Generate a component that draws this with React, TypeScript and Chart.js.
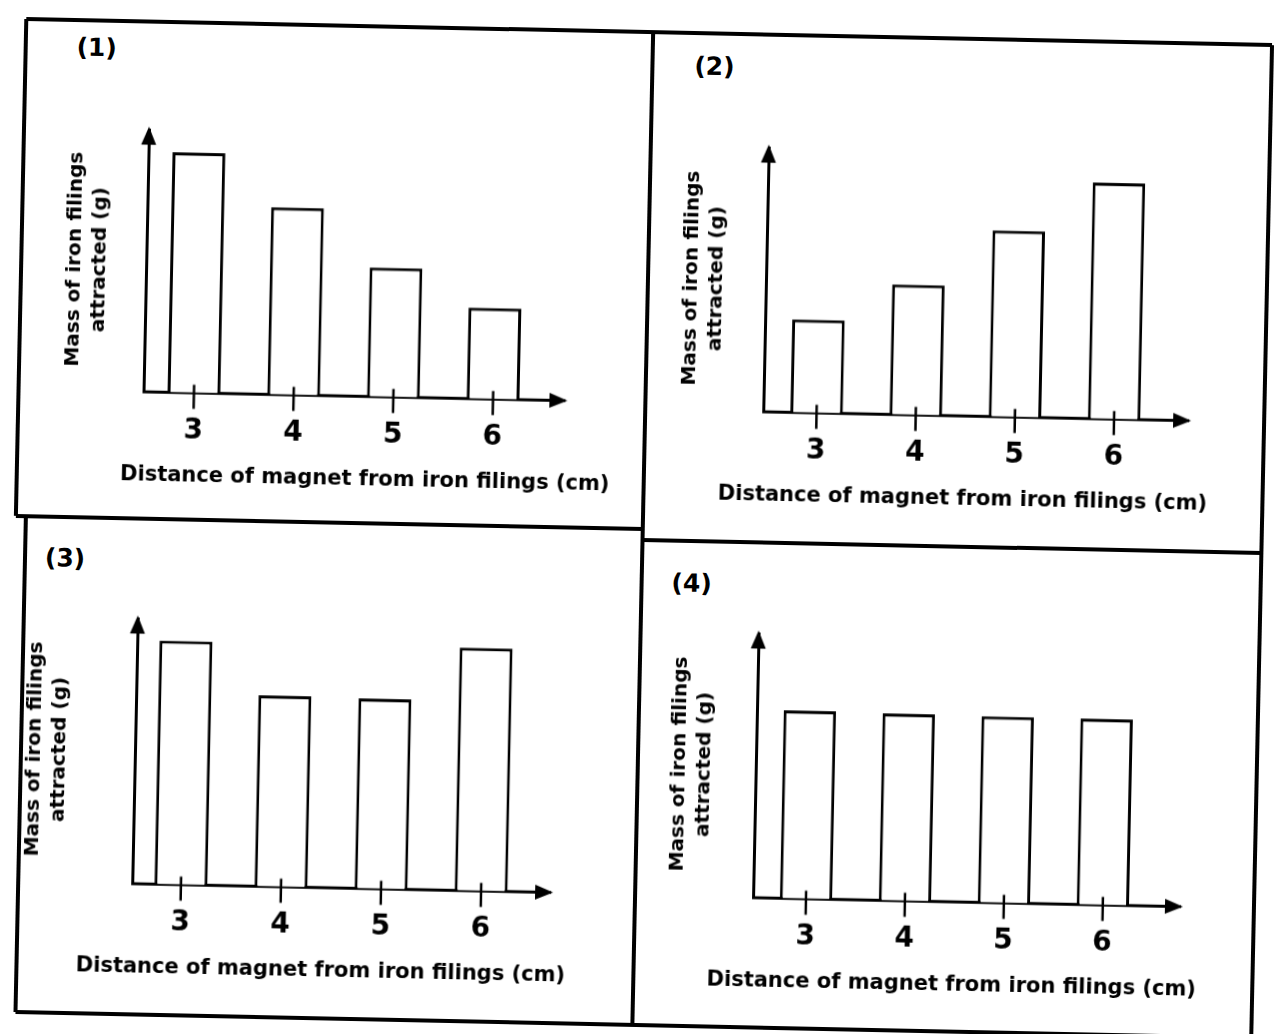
import React, { useEffect, useRef } from 'react';
import { Chart, registerables } from 'chart.js';

Chart.register(...registerables);

// ---------- data ----------
const distances = [3, 4, 5, 6];
const tickLabels = ['3', '4', '5', '6'];
const panelLabels = ['(1)', '(2)', '(3)', '(4)'];
const massPanel1 = [9.16, 7.14, 4.92, 3.47];
const massPanel2 = [3.52, 4.92, 7.05, 8.94];
const massPanel3 = [9.19, 7.2, 7.16, 9.16];
const massPanel4 = [7.11, 7.08, 7.05, 7.04];
const yTitleLines = ['Mass of iron filings', 'attracted (g)'];
const xTitle = 'Distance of magnet from iron filings (cm)';
const yMax = 10;

// ---------- layout (unrotated page coordinates) ----------
type PanelCfg = {
  values: number[];
  label: string;
  area: { l: number; r: number; t: number; b: number };
  xMin: number;
  xMax: number;
  yTitlePad: number;
  xTitleCenter: number;
  labelPos: { x: number; y: number };
};

const PANELS: PanelCfg[] = [
  { values: massPanel1, label: panelLabels[0], area: { l: 141, r: 562, t: 140, b: 402 }, xMin: 2.494, xMax: 6.716, yTitlePad: 36, xTitleCenter: 364, labelPos: { x: 87, y: 59 } },
  { values: massPanel2, label: panelLabels[1], area: { l: 761, r: 1186, t: 145, b: 409 }, xMin: 2.462, xMax: 6.747, yTitlePad: 33, xTitleCenter: 962, labelPos: { x: 705, y: 65 } },
  { values: massPanel3, label: panelLabels[2], area: { l: 140, r: 558, t: 629, b: 894 }, xMin: 2.513, xMax: 6.69, yTitlePad: 7, xTitleCenter: 330, labelPos: { x: 66, y: 570 } },
  { values: massPanel4, label: panelLabels[3], area: { l: 761, r: 1188, t: 631, b: 895 }, xMin: 2.465, xMax: 6.78, yTitlePad: 31, xTitleCenter: 961, labelPos: { x: 693, y: 582 } },
];

const YW = 120; // width of the y-axis box (holds the two-line title)
const XH = 60; // height of the x-axis box (tick labels)
const PT = 20;
const X_TITLE_SIZE = 21;
const X_TITLE_LH = 1.2;
const X_TITLE_OFFSET = 83; // title centre below the x axis
const X_TITLE_PAD_TOP = X_TITLE_OFFSET - XH - (X_TITLE_SIZE * X_TITLE_LH) / 2;
const X_TITLE_PAD_BOTTOM = 10;

const axisDecor = {
  id: 'axisDecor',
  afterDraw(chart: any) {
    const { ctx, chartArea: a, scales } = chart;
    const x = scales.x;
    ctx.save();
    ctx.fillStyle = '#000';
    ctx.strokeStyle = '#000';
    // y-axis arrow head
    ctx.beginPath();
    ctx.moveTo(a.left, a.top - 3);
    ctx.lineTo(a.left - 7.5, a.top + 15);
    ctx.lineTo(a.left + 7.5, a.top + 15);
    ctx.closePath();
    ctx.fill();
    // x-axis arrow head
    ctx.beginPath();
    ctx.moveTo(a.right + 3, a.bottom);
    ctx.lineTo(a.right - 15, a.bottom - 7.5);
    ctx.lineTo(a.right - 15, a.bottom + 7.5);
    ctx.closePath();
    ctx.fill();
    // tick marks crossing the axis
    ctx.lineWidth = 2.5;
    x.ticks.forEach((t: any) => {
      const px = x.getPixelForValue(t.value);
      ctx.beginPath();
      ctx.moveTo(px, a.bottom - 8);
      ctx.lineTo(px, a.bottom + 16);
      ctx.stroke();
    });
    ctx.restore();
  },
};

function Panel({ cfg }: { cfg: PanelCfg }) {
  const ref = useRef<HTMLCanvasElement>(null);
  const left = cfg.area.l - YW;
  const top = cfg.area.t - PT;
  const right = 2 * cfg.xTitleCenter - left; // canvas centred on the x title
  const PR = right - cfg.area.r;
  const width = right - left;
  const height =
    cfg.area.b + XH + X_TITLE_PAD_TOP + X_TITLE_SIZE * X_TITLE_LH + X_TITLE_PAD_BOTTOM - top;

  useEffect(() => {
    if (!ref.current) return;
    const chart = new Chart(ref.current, {
      type: 'bar',
      data: {
        datasets: [
          {
            data: distances.map((d, i) => ({ x: d, y: cfg.values[i] })),
            backgroundColor: '#ffffff',
            borderColor: '#000000',
            borderWidth: 3,
            categoryPercentage: 1,
            barPercentage: 0.53,
          } as any,
        ],
      },
      options: {
        responsive: false,
        animation: false,
        devicePixelRatio: 1,
        layout: { padding: { top: PT, right: 0, left: 0, bottom: 0 } },
        plugins: {
          legend: { display: false },
          tooltip: { enabled: false },
          title: {
            display: true,
            position: 'bottom',
            text: xTitle,
            color: '#000',
            font: { family: 'DejaVu Sans', size: X_TITLE_SIZE, weight: 'bold', lineHeight: X_TITLE_LH },
            padding: { top: X_TITLE_PAD_TOP, bottom: X_TITLE_PAD_BOTTOM },
          },
        },
        scales: {
          x: {
            type: 'linear',
            min: cfg.xMin,
            max: cfg.xMax,
            offset: false,
            z: 1,
            grid: { display: false, drawTicks: false },
            border: { display: true, color: '#000', width: 3 },
            ticks: {
              stepSize: 1,
              includeBounds: false,
              autoSkip: false,
              maxRotation: 0,
              padding: 22,
              color: '#000',
              font: { family: 'DejaVu Sans', size: 28, weight: 'bold' },
              callback: (v: any) => {
                const i = distances.indexOf(Number(v));
                return i >= 0 ? tickLabels[i] : '';
              },
            },
            afterFit: (s: any) => {
              s.height = XH;
            },
          },
          y: {
            min: 0,
            max: yMax,
            z: 1,
            grid: { display: false, drawTicks: false },
            border: { display: true, color: '#000', width: 3 },
            ticks: { display: false },
            title: {
              display: true,
              text: yTitleLines,
              color: '#000',
              font: { family: 'DejaVu Sans', size: 20, weight: 'bold', lineHeight: 1.27 },
              padding: { top: cfg.yTitlePad, bottom: 0 },
              align: 'center',
            },
            afterFit: (s: any) => {
              s.width = YW;
            },
          },
          // empty right-hand box: reserves room so the x title can be centred on the canvas
          spacer: {
            type: 'linear',
            position: 'right',
            min: 0,
            max: yMax,
            grid: { display: false, drawTicks: false },
            border: { display: false },
            ticks: { display: false },
            afterFit: (s: any) => {
              s.width = PR;
            },
          },
        },
      } as any,
      plugins: [axisDecor],
    });
    return () => chart.destroy();
  }, []);

  return (
    <>
      <canvas
        ref={ref}
        width={width}
        height={height}
        style={{ position: 'absolute', left, top, width, height }}
      />
      <div
        style={{
          position: 'absolute',
          left: cfg.labelPos.x,
          top: cfg.labelPos.y,
          transform: 'translate(-50%, -50%)',
          fontFamily: 'DejaVu Sans',
          fontSize: 25,
          fontWeight: 'bold',
          lineHeight: 1,
          color: '#000',
          whiteSpace: 'nowrap',
        }}
      >
        {cfg.label}
      </div>
    </>
  );
}

function Line({ x1, y1, x2, y2 }: { x1: number; y1: number; x2: number; y2: number }) {
  const t = 3.5;
  const horizontal = y1 === y2;
  return (
    <div
      style={{
        position: 'absolute',
        left: horizontal ? x1 : x1 - t / 2,
        top: horizontal ? y1 - t / 2 : y1,
        width: horizontal ? x2 - x1 : t,
        height: horizontal ? t : y2 - y1,
        background: '#000',
      }}
    />
  );
}

export default function App() {
  return (
    <div style={{ position: 'absolute', left: 0, top: 0, width: 1282, height: 1034, overflow: 'hidden', background: '#fff' }}>
      <div
        style={{
          position: 'absolute',
          left: 0,
          top: 0,
          width: 1282,
          height: 1034,
          transform: 'rotate(1.2deg)',
          transformOrigin: '641px 517px',
        }}
      >
        <Line x1={16} y1={32} x2={1262} y2={32} />
        <Line x1={16} y1={32} x2={16} y2={529} />
        <Line x1={26} y1={529} x2={26} y2={1025} />
        <Line x1={1262} y1={32} x2={1262} y2={1025} />
        <Line x1={26} y1={1025} x2={1263} y2={1025} />
        <Line x1={643} y1={32} x2={643} y2={1025} />
        <Line x1={16} y1={529} x2={643} y2={529} />
        <Line x1={643} y1={540} x2={1262} y2={540} />
        {PANELS.map((p, i) => (
          <Panel key={i} cfg={p} />
        ))}
      </div>
    </div>
  );
}
